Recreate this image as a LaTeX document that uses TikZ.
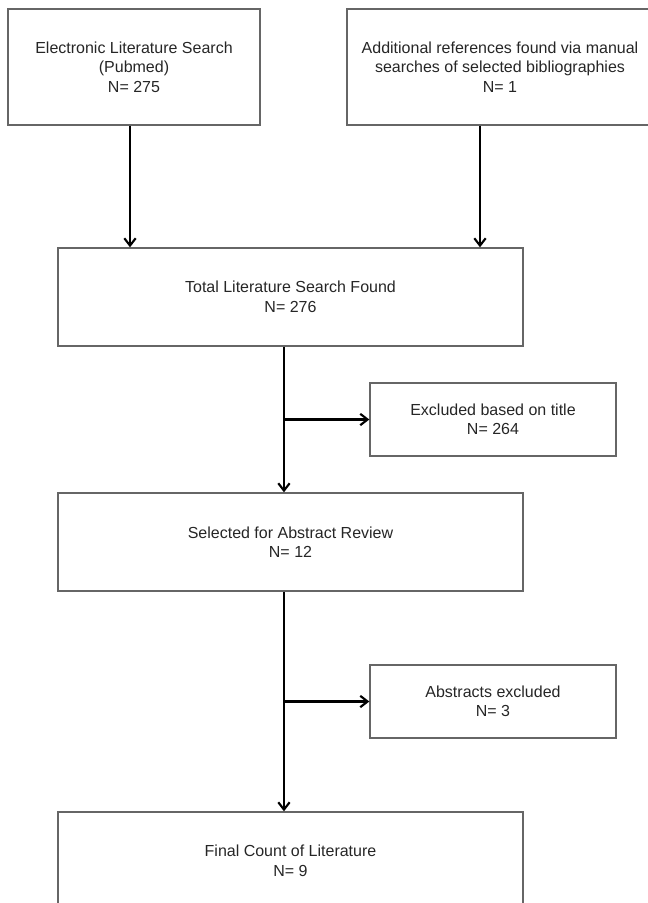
\documentclass[tikz,border=0pt]{standalone}
\usepackage{fontspec}
\setmainfont{Liberation Sans}
\usetikzlibrary{arrows.meta}
\begin{document}
\begin{tikzpicture}[x=0.75pt, y=-0.75pt,
  box/.style={draw=black!60, line width=1pt, align=center, inner sep=0pt,
    font=\fontsize{12}{14.6}\selectfont, text=black!85},
  mainbox/.style={box, minimum width=348.75pt, minimum height=73.5pt},
  sidebox/.style={box, minimum width=184.5pt, minimum height=54.75pt},
  flow/.style={line width=2pt, -{Straight Barb[length=5.5pt,width=8.5pt,line width=1.6pt]}}]
\useasboundingbox (0,0) rectangle (647,903);
\node[box, minimum width=189pt, minimum height=87pt] (search) at (134,67) {Electronic Literature Search\\(Pubmed)\\N= 275};
\node[box, minimum width=229.5pt, minimum height=87pt] (manual) at (500,67) {Additional references found via manual\\searches of selected bibliographies\\N= 1};
\node[mainbox] (total) at (290.5,297) {Total Literature Search Found\\N= 276};
\node[sidebox] (title) at (493,419.5) {Excluded based on title\\N= 264};
\node[mainbox] (review) at (290.5,542) {Selected for Abstract Review\\N= 12};
\node[sidebox] (abstracts) at (493,701.5) {Abstracts excluded\\N= 3};
\node[mainbox] (final) at (290.5,861) {Final Count of Literature\\N= 9};
\draw[flow] ([xshift=-3pt]search.south) -- ([xshift=-3pt]search.south |- total.north);
\draw[flow] ([xshift=-15pt]manual.south) -- ([xshift=-15pt]manual.south |- total.north);
\coordinate (trunk1) at ([xshift=-4.9pt]total.south);
\draw[flow] (trunk1) -- (trunk1 |- review.north);
\draw[flow] (trunk1 |- title.west) -- (title.west);
\coordinate (trunk2) at ([xshift=-4.9pt]review.south);
\draw[flow] (trunk2) -- (trunk2 |- final.north);
\draw[flow] (trunk2 |- abstracts.west) -- (abstracts.west);
\end{tikzpicture}
\end{document}
